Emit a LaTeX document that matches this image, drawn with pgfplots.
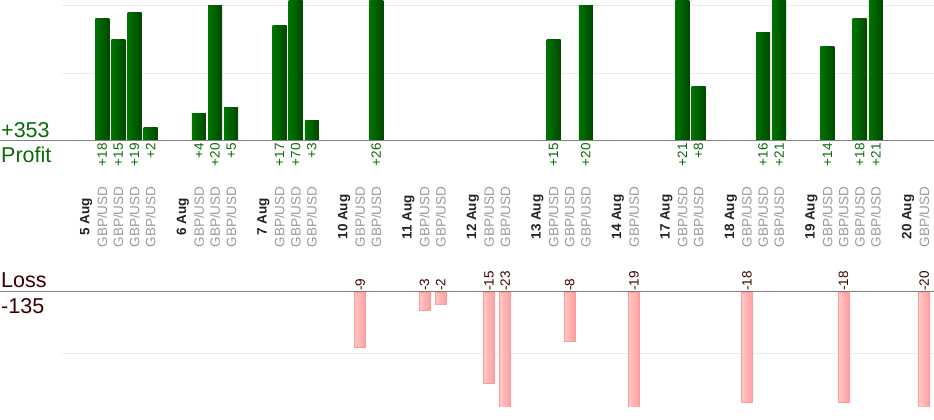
\documentclass[border=0pt]{standalone}
\usepackage{pgfplots}
\pgfplotsset{compat=1.18}
\usepackage{fontspec}
\setmainfont{Liberation Sans}
\definecolor{pgl}{HTML}{007400}
\definecolor{pgd}{HTML}{004800}
\definecolor{ptext}{HTML}{0A6A0A}
\definecolor{ltext}{HTML}{3A0000}
\definecolor{lfill1}{HTML}{FFC8C8}
\definecolor{lfill2}{HTML}{FF9E9E}
\definecolor{ldraw}{HTML}{FF9A9A}
\definecolor{gridc}{HTML}{EBEBEB}
\definecolor{basec}{HTML}{808080}
\definecolor{gbp}{HTML}{999999}
\definecolor{datec}{HTML}{222222}
\newcommand\G{\textcolor{gbp}{GBP/USD}}
\newcommand\D[1]{\textcolor{datec}{\bfseries #1}}
\pgfplotsset{
 common/.style={scale only axis, width=872pt, xmin=-1.5, xmax=52.61,
   axis line style={draw=none}, major tick length=0pt, clip=true,
   ymajorgrids, grid style={gridc, line width=1pt}, yticklabels={}},
 lab/.style={font=\fontsize{13.5}{13.5}\selectfont},
 pbar/.style={ybar, bar width=14pt, bar shift=0pt, draw=none, left color=pgl, right color=pgd},
 lbar/.style={ybar, bar width=11pt, bar shift=0pt, draw=ldraw, left color=lfill1, right color=lfill2},
}
\begin{document}
\begin{tikzpicture}
\useasboundingbox (0pt,0pt) rectangle (934pt,420pt);
% profit
\begin{axis}[common, at={(62pt,279pt)}, anchor=south west, height=141pt,
  ymin=0, ymax=20.8, ytick={10,20},
  xtick={1,2,3,4,7,8,9,12,13,14,18,29,31,37,38,42,43,46,48,49},
  xticklabels={+18,+15,+19,+2,+4,+20,+5,+17,+70,+3,+26,+15,+20,+21,+8,+16,+21,+14,+18,+21},
  xticklabel style={lab, rotate=90, anchor=east, inner sep=2pt, text=ptext}]
\addplot[pbar] coordinates {(1,18)};
\addplot[pbar] coordinates {(2,15)};
\addplot[pbar] coordinates {(3,19)};
\addplot[pbar] coordinates {(4,2)};
\addplot[pbar] coordinates {(7,4)};
\addplot[pbar] coordinates {(8,20)};
\addplot[pbar] coordinates {(9,5)};
\addplot[pbar] coordinates {(12,17)};
\addplot[pbar] coordinates {(13,70)};
\addplot[pbar] coordinates {(14,3)};
\addplot[pbar] coordinates {(18,26)};
\addplot[pbar] coordinates {(29,15)};
\addplot[pbar] coordinates {(31,20)};
\addplot[pbar] coordinates {(37,21)};
\addplot[pbar] coordinates {(38,8)};
\addplot[pbar] coordinates {(42,16)};
\addplot[pbar] coordinates {(43,21)};
\addplot[pbar] coordinates {(46,14)};
\addplot[pbar] coordinates {(48,18)};
\addplot[pbar] coordinates {(49,21)};
\end{axis}
% loss
\begin{axis}[common, at={(62pt,13pt)}, anchor=south west, height=115pt,
  ymin=-18.85, ymax=0, ytick={-10},
  xtick={17,21,22,25,26,30,34,41,47,52},
  xticklabels={-9,-3,-2,-15,-23,-8,-19,-18,-18,-20},
  xticklabel pos=upper,
  xticklabel style={lab, rotate=90, anchor=west, inner sep=1pt, text=ltext}]
\addplot[lbar] coordinates {(17,-9)};
\addplot[lbar] coordinates {(21,-3)};
\addplot[lbar] coordinates {(22,-2)};
\addplot[lbar] coordinates {(25,-15)};
\addplot[lbar] coordinates {(26,-23)};
\addplot[lbar] coordinates {(30,-8)};
\addplot[lbar] coordinates {(34,-19)};
\addplot[lbar] coordinates {(41,-18)};
\addplot[lbar] coordinates {(47,-18)};
\addplot[lbar] coordinates {(52,-20)};
\end{axis}
% categories
\begin{axis}[common, at={(62pt,203pt)}, anchor=south west, height=1pt,
  ymin=0, ymax=1, ytick=\empty, ymajorgrids=false,
  xtick={0,1,2,3,4,6,7,8,9,11,12,13,14,16,17,18,20,21,22,24,25,26,28,29,30,31,33,34,36,37,38,40,41,42,43,45,46,47,48,49,51,52},
  xticklabels={{\D{5 Aug}},\G,\G,\G,\G,{\D{6 Aug}},\G,\G,\G,{\D{7 Aug}},\G,\G,\G,{\D{10 Aug}},\G,\G,{\D{11 Aug}},\G,\G,{\D{12 Aug}},\G,\G,{\D{13 Aug}},\G,\G,\G,{\D{14 Aug}},\G,{\D{17 Aug}},\G,\G,{\D{18 Aug}},\G,\G,\G,{\D{19 Aug}},\G,\G,\G,\G,{\D{20 Aug}},\G},
  xticklabel style={lab, rotate=90, anchor=center, inner sep=0pt}]
\addplot[draw=none] coordinates {(0,0.5)};
\end{axis}
\draw[basec, line width=1pt] (0pt,279pt) -- (934pt,279pt);
\draw[basec, line width=1pt] (0pt,128pt) -- (934pt,128pt);
\node[anchor=base west, inner sep=0pt, text=ptext, font=\fontsize{21.5}{21.5}\selectfont] at (1pt,282.7pt) {+353};
\node[anchor=base west, inner sep=0pt, text=ptext, font=\fontsize{21.5}{21.5}\selectfont] at (1pt,257.3pt) {Profit};
\node[anchor=base west, inner sep=0pt, text=ltext, font=\fontsize{21.5}{21.5}\selectfont] at (1pt,132.7pt) {Loss};
\node[anchor=base west, inner sep=0pt, text=ltext, font=\fontsize{21.5}{21.5}\selectfont] at (1pt,106.7pt) {-135};
\end{tikzpicture}
\end{document}
